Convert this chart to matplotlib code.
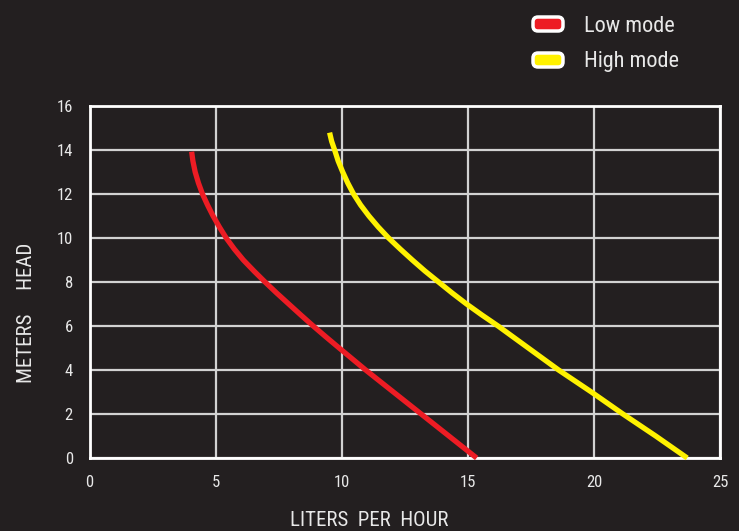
import matplotlib
matplotlib.use("Agg")
import matplotlib.pyplot as plt
from matplotlib.patches import FancyBboxPatch
from matplotlib.transforms import IdentityTransform

# ---- data ----
low_head = [13.92, 13.5, 13, 12.5, 12, 11.5, 11, 10.5, 10, 9.5, 9, 8.5, 8, 7.5, 7, 6.5, 6, 5.5, 5,
            4, 3, 2, 1, 0]
low_flow = [4.05, 4.1, 4.19, 4.32, 4.48, 4.68, 4.9, 5.15, 5.42, 5.74, 6.1, 6.52, 6.96, 7.42, 7.9,
            8.38, 8.87, 9.38, 9.9, 10.95, 12.05, 13.15, 14.25, 15.35]
high_head = [14.79, 14.4, 14, 13.5, 13, 12.5, 12, 11.5, 11, 10.5, 10, 9.5, 9, 8.5, 8, 7.5, 7, 6.5,
             6, 5.5, 5, 4.5, 4, 3, 2, 1, 0]
high_flow = [9.52, 9.6, 9.72, 9.86, 10.04, 10.24, 10.47, 10.75, 11.08, 11.45, 11.86, 12.32, 12.8,
             13.3, 13.84, 14.38, 14.95, 15.56, 16.2, 16.8, 17.4, 18.0, 18.6, 19.9, 21.15, 22.45, 23.7]
x_ticks = [0, 5, 10, 15, 20, 25]
y_ticks = [0, 2, 4, 6, 8, 10, 12, 14, 16]
series_names = ["Low mode", "High mode"]

BG = "#231f20"
RED = "#ed1c24"
YEL = "#fff200"
TXT = "#e8e8e8"
GRID = "#d2d2d2"
FONT = ["Roboto Condensed", "Liberation Sans Narrow", "Roboto", "DejaVu Sans"]

W, H = 739, 531
fig = plt.figure(figsize=(W / 100, H / 100), dpi=100, facecolor=BG)
ax = fig.add_axes([89.5 / W, 1 - 458 / H, (720 - 89.5) / W, (458 - 106) / H])
ax.set_facecolor(BG)
ax.set_xlim(0, 25)
ax.set_ylim(0, 16)
ax.set_xticks(x_ticks)
ax.set_yticks(y_ticks)
ax.grid(True, color=GRID, linewidth=1.6)
ax.set_axisbelow(True)
for s in ax.spines.values():
    s.set_color("white")
    s.set_linewidth(2)
ax.tick_params(length=0, colors=TXT, labelsize=12, pad=12)
for lab in ax.get_xticklabels() + ax.get_yticklabels():
    lab.set_family(FONT)
    lab.set_color(TXT)

ax.plot(low_flow, low_head, color=RED, lw=3.8, solid_capstyle="butt",
        solid_joinstyle="round", clip_on=False, zorder=3)
ax.plot(high_flow, high_head, color=YEL, lw=3.8, solid_capstyle="butt",
        solid_joinstyle="round", clip_on=False, zorder=3)

# axis labels
fig.text(369 / W, 1 - 520 / H, "LITERS  PER  HOUR", color=TXT, fontsize=15,
         family=FONT, ha="center", va="center")
fig.text(27 / W, 1 - 313 / H, "METERS     HEAD", color=TXT, fontsize=15,
         family=FONT, ha="center", va="center", rotation=90)

# legend (pixel coordinates)
for i, (name, col) in enumerate(zip(series_names, [RED, YEL])):
    yc = 24 + 36 * i
    box = FancyBboxPatch((533, H - (yc + 7)), 30, 14,
                         boxstyle="round,pad=0,rounding_size=5",
                         transform=IdentityTransform(), facecolor=col,
                         edgecolor="white", linewidth=2.5)
    fig.patches.append(box)
    fig.text(584 / W, 1 - (yc + 2) / H, name, color=TXT, fontsize=16, family=FONT,
             ha="left", va="center")

fig.savefig("out.png", dpi=100, facecolor=BG)
